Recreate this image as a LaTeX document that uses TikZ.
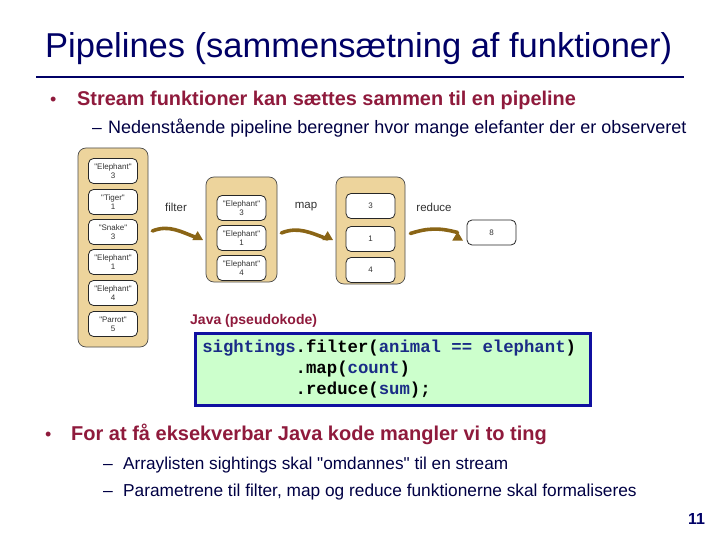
\documentclass[tikz,border=0pt]{standalone}
\usepackage{fontspec}
\setmainfont{Liberation Sans}[Ligatures=TeXOff]
\setmonofont{Liberation Mono}
\usetikzlibrary{positioning,arrows.meta}

\definecolor{navy}{HTML}{000066}
\definecolor{darknavy}{HTML}{000044}
\definecolor{wine}{HTML}{8F1A3C}
\definecolor{tan}{HTML}{EDD49C}
\definecolor{pipebrown}{HTML}{8A6516}
\definecolor{codegreen}{HTML}{CCFFCC}
\definecolor{codeblue}{HTML}{1010A0}
\definecolor{identblue}{HTML}{1A2C86}

\newcommand{\ttsp}{\hspace*{0.6em}}

\tikzset{
  container/.style={draw=black!70, fill=tan, rounded corners=8pt, line width=0.7pt},
  item/.style={draw=black!85, fill=white, rounded corners=5pt, minimum width=49pt,
    minimum height=25pt, inner sep=0pt, align=center, line width=0.8pt,
    font=\fontsize{8}{9}\selectfont, text=black!80},
  pipe/.style={draw=pipebrown, line width=3.6pt, line cap=round,
    -{Triangle[length=9pt,width=10pt]}},
  oplabel/.style={font=\fontsize{11.5}{13}\selectfont, text=black!80},
  txt/.style={anchor=base west, inner sep=0pt}
}

\begin{document}
\begin{tikzpicture}[x=1pt,y=-1pt]
                \fill[white] (0,0) rectangle (720,540);
                \useasboundingbox (0,0) rectangle (720,540);

                %Title
                \node[txt, text=navy, font=\fontsize{34.5}{40}\selectfont] at (45,58) (title)
                    {Pipelines (sammensætning af funktioner)};
                \draw[navy, line width=2.6pt] (36,77) -- (684,77);

                %Bullets
                \node[txt, text=wine, font=\fontsize{18}{22}\selectfont] at (50,106) (b1dot) {•};
                \node[txt, text=wine, font=\bfseries\fontsize{19.9}{24}\selectfont] at (77,106) (b1)
                    {Stream funktioner kan sættes sammen til en pipeline};
                \node[txt, text=darknavy, font=\fontsize{17.5}{20}\selectfont] at (92,134) (s1dash) {–};
                \node[txt, text=darknavy, font=\fontsize{18}{20}\selectfont] at (108,134) (s1)
                    {Nedenstående pipeline beregner hvor mange elefanter der er observeret};

                %Containers
                \node[container, minimum width=70pt, minimum height=199pt] at (113,247.5) (c1) {};
                \node[container, minimum width=71pt, minimum height=105pt] at (241.5,229.5) (c2) {};
                \node[container, minimum width=69pt, minimum height=107pt] at (370.5,230.5) (c3) {};

                %Items
                \node[item] at (113,171) (a1) {"Elephant"\\3};
                \node[item] at (113,202) (a2) {"Tiger"\\1};
                \node[item] at (113,232) (a3) {"Snake"\\3};
                \node[item] at (113,262) (a4) {"Elephant"\\1};
                \node[item] at (113,293) (a5) {"Elephant"\\4};
                \node[item] at (113,324) (a6) {"Parrot"\\5};

                \node[item] at (241.5,208) (e1) {"Elephant"\\3};
                \node[item] at (241.5,238) (e2) {"Elephant"\\1};
                \node[item] at (241.5,268) (e3) {"Elephant"\\4};

                \node[item] at (370.5,206) (n1) {3};
                \node[item] at (370.5,239) (n2) {1};
                \node[item] at (370.5,270) (n3) {4};

                \node[item] at (491.5,232.5) (sum) {8};

                %Operation labels
                \node[oplabel] at (176,207) (filter) {filter};
                \node[oplabel] at (306,207) (map) {map};
                \node[oplabel] at (434,207) (reduce) {reduce};

                %Arrows
                \draw[pipe] ([xshift=4pt]c1.east |- e2.west) ++(0,-7) to[out=22,in=160] ([xshift=-8pt]c2.west |- e2.west) ++(0,-7);
                \draw[pipe] ([xshift=4pt]c2.east |- n2.west) ++(0,-6) to[out=22,in=160] ([xshift=-8pt]c3.west |- n2.west) ++(0,-8);
                \draw[pipe] ([xshift=5pt]c3.east |- sum.west) ++(0,1) to[out=18,in=165] ([xshift=-9pt]sum.west) ++(0,-1);

                %Code
                \node[txt, text=wine, font=\bfseries\fontsize{14}{16}\selectfont] at (190,324) (java) {Java (pseudokode)};
                \node[draw=codeblue, line width=2.6pt, fill=codegreen, anchor=north west,
                      minimum width=395pt, minimum height=72pt, text width=381pt, inner xsep=7pt,
                      align=left, font=\ttfamily\bfseries\fontsize{17.3}{21}\selectfont] at (194,332) (code)
                    {\textcolor{identblue}{sightings}.filter(\textcolor{identblue}{animal\ttsp==\ttsp elephant})\\
                     \phantom{sightings}.map(\textcolor{identblue}{count})\\
                     \phantom{sightings}.reduce(\textcolor{identblue}{sum});};

                %Second bullet
                \node[txt, text=wine, font=\fontsize{18}{22}\selectfont] at (45,440) (b2dot) {•};
                \node[txt, text=wine, font=\bfseries\fontsize{20}{24}\selectfont] at (71,440) (b2)
                    {For at få eksekverbar Java kode mangler vi to ting};
                \node[txt, text=darknavy, font=\fontsize{17.5}{20}\selectfont] at (103,469) (s2dash) {–};
                \node[txt, text=darknavy, font=\fontsize{17.2}{20}\selectfont] at (123,469) (s2)
                    {Arraylisten sightings skal "omdannes" til en stream};
                \node[txt, text=darknavy, font=\fontsize{17.5}{20}\selectfont] at (103,496) (s3dash) {–};
                \node[txt, text=darknavy, font=\fontsize{17.3}{20}\selectfont] at (123,496) (s3)
                    {Parametrene til filter, map og reduce funktionerne skal formaliseres};

                %Page number
                \node[txt, text=navy, font=\bfseries\fontsize{16}{18}\selectfont] at (688,524) (page) {11};
            \end{tikzpicture}
\end{document}
